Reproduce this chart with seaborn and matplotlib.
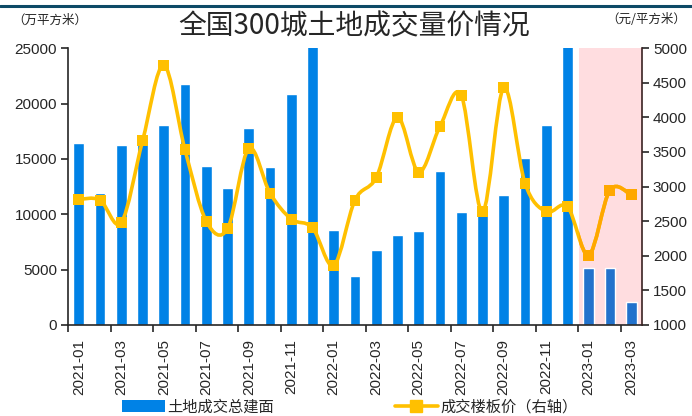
import numpy as np
import pandas as pd
import seaborn as sns
import matplotlib.pyplot as plt
from matplotlib.path import Path
from matplotlib.patches import PathPatch, Rectangle, Patch
from matplotlib.lines import Line2D

# 数据：全国300城土地成交
months = ['2021-01', '2021-02', '2021-03', '2021-04', '2021-05', '2021-06', '2021-07',
          '2021-08', '2021-09', '2021-10', '2021-11', '2021-12', '2022-01', '2022-02',
          '2022-03', '2022-04', '2022-05', '2022-06', '2022-07', '2022-08', '2022-09',
          '2022-10', '2022-11', '2022-12', '2023-01', '2023-02', '2023-03']
area = [16400, 11900, 16300, 16500, 18100, 21800, 14400, 12400, 17750, 14250, 20850, 26500,
        8600, 4450, 6750, 8100, 8450, 13900, 10200, 10500, 11700, 15050, 18050, 26500,
        5100, 5100, 2100]
price = [2815, 2805, 2480, 3660, 4755, 3530, 2500, 2390, 3550, 2905, 2530, 2405,
         1860, 2805, 3130, 4000, 3210, 3870, 4320, 2635, 4430, 3050, 2635, 2710,
         2010, 2950, 2880]
tick_labels = months[::2]

df = pd.DataFrame({'month': months, 'area': area, 'price': price})
df['pos'] = np.arange(len(df))

sns.set_theme(style='ticks')
plt.rcParams['font.family'] = ['Liberation Sans', 'Noto Sans CJK SC']
plt.rcParams['axes.unicode_minus'] = False

blue = '#0082E6'
blue_dark = '#2272CC'
gold = '#FFC000'
orange = '#FFA800'
span_start = 23.55
cjk = ['Noto Sans CJK SC', 'DejaVu Sans']

fig = plt.figure(figsize=(6.92, 4.16), dpi=100)
ax = fig.add_axes([0.0985, 0.219, 0.829, 0.665])

# 阴影区域（2023年）
ax.axvspan(span_start, 26.5, color='#FFDDE0', lw=0, zorder=0)

bar_colors = [blue_dark if p > span_start else blue for p in df['pos']]
sns.barplot(data=df, x='month', y='area', hue='month', palette=bar_colors,
            legend=False, width=0.5, ax=ax, zorder=2, saturation=1)
ax.set_xlim(-0.5, 26.5)
ax.set_ylim(0, 25000)
ax.set_yticks(range(0, 25001, 5000))
ax.set_xlabel('')
ax.set_ylabel('')
ax.set_xticks(range(0, 27, 2))
ax.set_xticklabels(tick_labels, rotation=90)
ax.set_xticks(np.arange(-0.5, 26, 2), minor=True)
ax.tick_params(axis='x', which='major', length=0, pad=10, labelsize=11)
ax.tick_params(axis='x', which='minor', length=5, width=1.2, direction='out')
ax.tick_params(axis='y', length=5, width=1.2, labelsize=11, pad=3)
for s in ['top', 'right']:
    ax.spines[s].set_visible(False)
ax.spines['left'].set_linewidth(1.2)
ax.spines['bottom'].set_linewidth(1.2)
ax.patch.set_visible(False)

ax2 = ax.twinx()
ax2.set_ylim(1000, 5000)
ax2.set_yticks(range(1000, 5001, 500))
ax2.tick_params(axis='y', length=5, width=1.2, labelsize=11, pad=3)
ax2.spines['top'].set_visible(False)
ax2.spines['left'].set_visible(False)
ax2.spines['bottom'].set_visible(False)
ax2.spines['right'].set_color('#3A2222')
ax2.spines['right'].set_linewidth(1.2)
ax2.set_zorder(ax.get_zorder() + 1)

# 平滑曲线（Catmull-Rom -> Bezier）
x = df['pos'].to_numpy(dtype=float)
y = df['price'].to_numpy(dtype=float)
verts = [(x[0], y[0])]
codes = [Path.MOVETO]
n = len(x)
for i in range(n - 1):
    x0, y0 = (x[i - 1], y[i - 1]) if i > 0 else (x[i], y[i])
    x3, y3 = (x[i + 2], y[i + 2]) if i + 2 < n else (x[i + 1], y[i + 1])
    c1 = (x[i] + (x[i + 1] - x0) / 6, y[i] + (y[i + 1] - y0) / 6)
    c2 = (x[i + 1] - (x3 - x[i]) / 6, y[i + 1] - (y3 - y[i]) / 6)
    verts += [c1, c2, (x[i + 1], y[i + 1])]
    codes += [Path.CURVE4] * 3
curve = Path(verts, codes)
ax2.add_patch(PathPatch(curve, facecolor='none', edgecolor=gold, lw=2.6, zorder=3))
clip = Rectangle((span_start, 0), 10, 10000, transform=ax2.transData)
seg = PathPatch(curve, facecolor='none', edgecolor=orange, lw=2.6, zorder=3)
ax2.add_patch(seg)
seg.set_clip_path(clip)

mk_colors = [orange if p > span_start else gold for p in df['pos']]
sns.scatterplot(x=x, y=y, marker='s', s=62, c=mk_colors, edgecolor='none',
                ax=ax2, zorder=4, legend=False)

# 标题与单位
fig.text(0.512, 0.937, '全国300城土地成交量价情况', ha='center', va='center',
         fontsize=20, family=cjk)
fig.text(0.018, 0.952, '（万平方米）', ha='left', va='center', fontsize=9,
         family=cjk, color='#222222')
fig.text(0.992, 0.952, '（元/平方米）', ha='right', va='center', fontsize=9,
         family=cjk, color='#222222')
fig.add_artist(Line2D([0, 1], [0.986, 0.986], color='#0D4A66', lw=2.2,
                      transform=fig.transFigure))

# 图例
leg1 = fig.legend([Patch(facecolor=blue, edgecolor='none')], ['土地成交总建面'],
                  loc='center left', bbox_to_anchor=(122 / 692, 0.022), frameon=False,
                  prop={'family': cjk, 'size': 11}, handlelength=2.8, handleheight=0.75,
                  handletextpad=0.15, borderpad=0, borderaxespad=0)
leg2 = fig.legend([Line2D([], [], color=gold, lw=2.6, marker='s', markersize=8)],
                  ['成交楼板价（右轴）'], loc='center left',
                  bbox_to_anchor=(395 / 692, 0.022), frameon=False,
                  prop={'family': cjk, 'size': 11}, handlelength=2.8,
                  handletextpad=0.15, borderpad=0, borderaxespad=0)

fig.savefig('out.png', dpi=100)
